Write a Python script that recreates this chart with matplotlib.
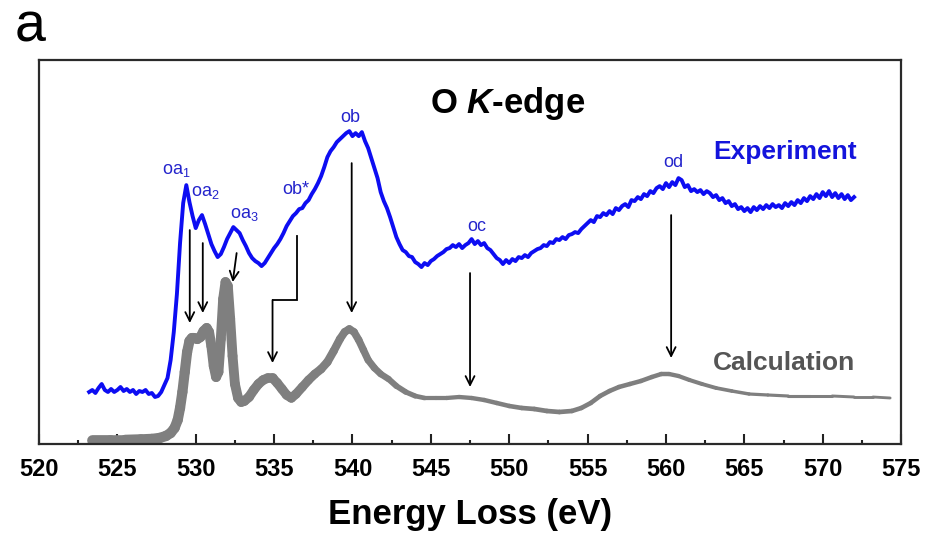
import numpy as np
import matplotlib
matplotlib.use("Agg")
import matplotlib.pyplot as plt
from matplotlib.collections import LineCollection

plt.rcParams['font.family'] = ['Liberation Sans', 'DejaVu Sans']
plt.rcParams['mathtext.fontset'] = 'custom'
plt.rcParams['mathtext.rm'] = 'Liberation Sans'
plt.rcParams['mathtext.it'] = 'Liberation Sans:italic:bold'

# ---- measured O K-edge spectrum (0.2 eV steps from 523.2 to 572.0 eV), arb. units
exp_start, exp_step = 523.2, 0.2
exp_intensity = [
    52, 54, 51, 56, 60, 54, 52, 55, 52, 54,
    57, 53, 55, 52, 54, 50, 53, 52, 54, 50,
    51, 47, 48, 52, 59, 66, 84, 112, 150, 201,
    241, 259, 242, 228, 216, 224, 229, 220, 210, 200,
    193, 187, 190, 197, 205, 211, 217, 214, 211, 204,
    198, 191, 186, 183, 181, 178, 181, 186, 191, 196,
    200, 205, 211, 218, 223, 228, 231, 235, 236, 241,
    244, 250, 255, 261, 268, 277, 287, 293, 297, 302,
    305, 308, 311, 313, 308, 311, 308, 312, 303, 296,
    286, 276, 266, 252, 243, 236, 227, 217, 207, 200,
    194, 192, 188, 187, 182, 180, 177, 181, 179, 183,
    185, 188, 190, 192, 195, 196, 199, 197, 200, 196,
    199, 201, 205, 200, 203, 199, 201, 196, 194, 190,
    186, 184, 180, 184, 181, 185, 183, 187, 186, 189,
    187, 191, 193, 195, 196, 199, 198, 202, 201, 205,
    204, 207, 205, 209, 210, 212, 211, 215, 218, 221,
    224, 222, 228, 227, 231, 229, 233, 230, 236, 234,
    238, 240, 237, 244, 243, 247, 245, 250, 248, 253,
    251, 256, 258, 255, 261, 257, 262, 259, 266, 264,
    257, 259, 253, 255, 252, 254, 250, 253, 251, 247,
    249, 244, 246, 241, 243, 238, 240, 235, 237, 233,
    236, 232, 237, 234, 238, 235, 239, 236, 240, 237,
    239, 236, 241, 238, 242, 239, 244, 241, 246, 243,
    248, 245, 250, 246, 252, 248, 253, 247, 251, 246,
    250, 245, 249, 244, 247,
]
exp_energy = exp_start + exp_step * np.arange(len(exp_intensity))

# ---- calculated spectrum
calc_energy = [
    523.4, 524.5, 525.5, 526.5, 527.2, 527.7, 528.1, 528.4, 528.65, 528.85,
    529.0, 529.15, 529.3, 529.45, 529.6, 529.75, 529.9, 530.1, 530.3, 530.5,
    530.7, 530.85, 531.0, 531.15, 531.3, 531.45, 531.6, 531.75, 531.9, 532.05,
    532.2, 532.35, 532.5, 532.7, 532.9, 533.1, 533.4, 533.7, 534.0, 534.3,
    534.6, 534.9, 535.2, 535.5, 535.8, 536.1, 536.4, 536.8, 537.2, 537.6,
    538.0, 538.4, 538.8, 539.2, 539.5, 539.8, 540.1, 540.4, 540.7, 541.0,
    541.4, 541.8, 542.3, 542.8, 543.4, 544.0, 544.6, 545.3, 546.0, 546.8,
    547.6, 548.4, 549.2, 550.0, 550.8, 551.6, 552.4, 553.2, 554.0, 554.6,
    555.2, 555.8, 556.4, 557.0, 557.7, 558.4, 559.1, 559.7, 560.2, 560.8,
    561.5, 562.3, 563.2, 564.2, 565.3, 566.5, 567.8, 569.2, 570.6, 572.0,
    573.2, 574.3,
]
calc_intensity = [
    4, 4, 4, 4.5, 5, 6, 8, 11, 16, 24,
    36, 52, 72, 92, 103, 106, 106, 105, 107, 113,
    116, 112, 98, 78, 67, 72, 105, 145, 162, 158,
    125, 88, 60, 46, 42, 43, 47, 54, 60, 64,
    66, 66, 61, 55, 49, 46, 50, 57, 64, 70,
    75, 82, 93, 105, 112, 115, 112, 104, 94, 84,
    76, 70, 65, 58, 52, 48, 46, 46, 46, 47,
    46, 44, 41, 38, 36, 35, 33, 32, 33, 36,
    41, 48, 53, 57, 60, 63, 67, 70, 70, 68,
    64, 60, 56, 53, 50, 49, 48, 48, 48, 47,
    47, 46,
]

# ---- peak labels: (text, energy, intensity)
peak_labels = ["oa$_1$", "oa$_2$", "oa$_3$", "ob*", "ob", "oc", "od"]
peak_label_x = [528.75, 530.6, 533.1, 536.4, 539.85, 547.9, 560.5]
peak_label_y = [274, 252, 230, 255, 327, 218, 282]

# ---- straight arrows linking experiment to calculation: start -> end
arrow_x0 = [529.62, 530.45, 532.61, 539.95, 547.5, 560.33]
arrow_y0 = [214, 201, 191, 281, 171, 229]
arrow_x1 = [529.62, 530.45, 532.36, 539.95, 547.5, 560.33]
arrow_y1 = [121, 131, 162, 131, 57, 86]

# bent connector for ob*
bent_x = [536.43, 536.43, 534.90, 534.90]
bent_y = [208, 144, 144, 81]

xticks = list(range(520, 576, 5))

fig = plt.figure(figsize=(9.28, 5.52), dpi=100)
ax = fig.add_axes([0.042, 0.1957, 0.929, 0.6953])
ax.set_xlim(520, 575)
ax.set_ylim(0, 384)

# calculation: thick on the near-edge part, thinner towards high energy
ce = np.asarray(calc_energy)
ci = np.asarray(calc_intensity)
pts = np.column_stack([ce, ci]).reshape(-1, 1, 2)
segs = np.concatenate([pts[:-1], pts[1:]], axis=1)
mid = 0.5 * (ce[:-1] + ce[1:])
widths = np.interp(mid, [523, 536, 541, 545, 552, 560, 566, 575],
                   [7.8, 6.8, 5.2, 3.0, 3.4, 3.2, 2.3, 2.0])
lc = LineCollection(segs, linewidths=widths, colors='#7f7f7f',
                    capstyle='round', joinstyle='round', zorder=2)
ax.add_collection(lc)

ax.plot(exp_energy, exp_intensity, color='#0d0df2', lw=2.8, zorder=3,
        solid_joinstyle='round')

for x0, y0, x1, y1 in zip(arrow_x0, arrow_y0, arrow_x1, arrow_y1):
    ax.annotate('', xy=(x1, y1), xytext=(x0, y0),
                arrowprops=dict(arrowstyle='->', color='black', lw=1.3,
                                mutation_scale=16, shrinkA=0, shrinkB=0),
                zorder=4)
ax.plot(bent_x[:3], bent_y[:3], color='black', lw=1.3, zorder=4,
        solid_joinstyle='miter')
ax.annotate('', xy=(bent_x[3], bent_y[3]), xytext=(bent_x[2], bent_y[2]),
            arrowprops=dict(arrowstyle='->', color='black', lw=1.3,
                            mutation_scale=16, shrinkA=0, shrinkB=0),
            zorder=4)

for t, x, y in zip(peak_labels, peak_label_x, peak_label_y):
    ax.text(x, y, t, color='#2424cc', fontsize=13, ha='center', va='center')

ax.text(549.9, 341, "O $\\mathit{K}$-edge", fontsize=25, fontweight='bold',
        ha='center', va='center', color='black')
ax.text(567.6, 292, "Experiment", fontsize=19, fontweight='bold',
        ha='center', va='center', color='#1414dc')
ax.text(567.55, 81, "Calculation", fontsize=19, fontweight='bold',
        ha='center', va='center', color='#555555')

ax.set_xticks(xticks)
ax.set_xticks([x + 2.5 for x in xticks[:-1]], minor=True)
ax.set_xticklabels([str(x) for x in xticks], fontsize=17, fontweight='bold')
ax.set_yticks([])
ax.tick_params(axis='x', which='major', direction='in', length=7, width=1.5,
               pad=10, color='#222222')
ax.tick_params(axis='x', which='minor', direction='in', length=3, width=1.5,
               color='#222222')
for s in ax.spines.values():
    s.set_linewidth(1.6)
    s.set_color('#2a2a2a')

ax.set_xlabel("Energy Loss (eV)", fontsize=25, fontweight='bold', labelpad=12)

fig.text(15 / 928, 1 - 42 / 552, "a", fontsize=40, ha='left', va='baseline')

fig.savefig("out.png", dpi=100)
